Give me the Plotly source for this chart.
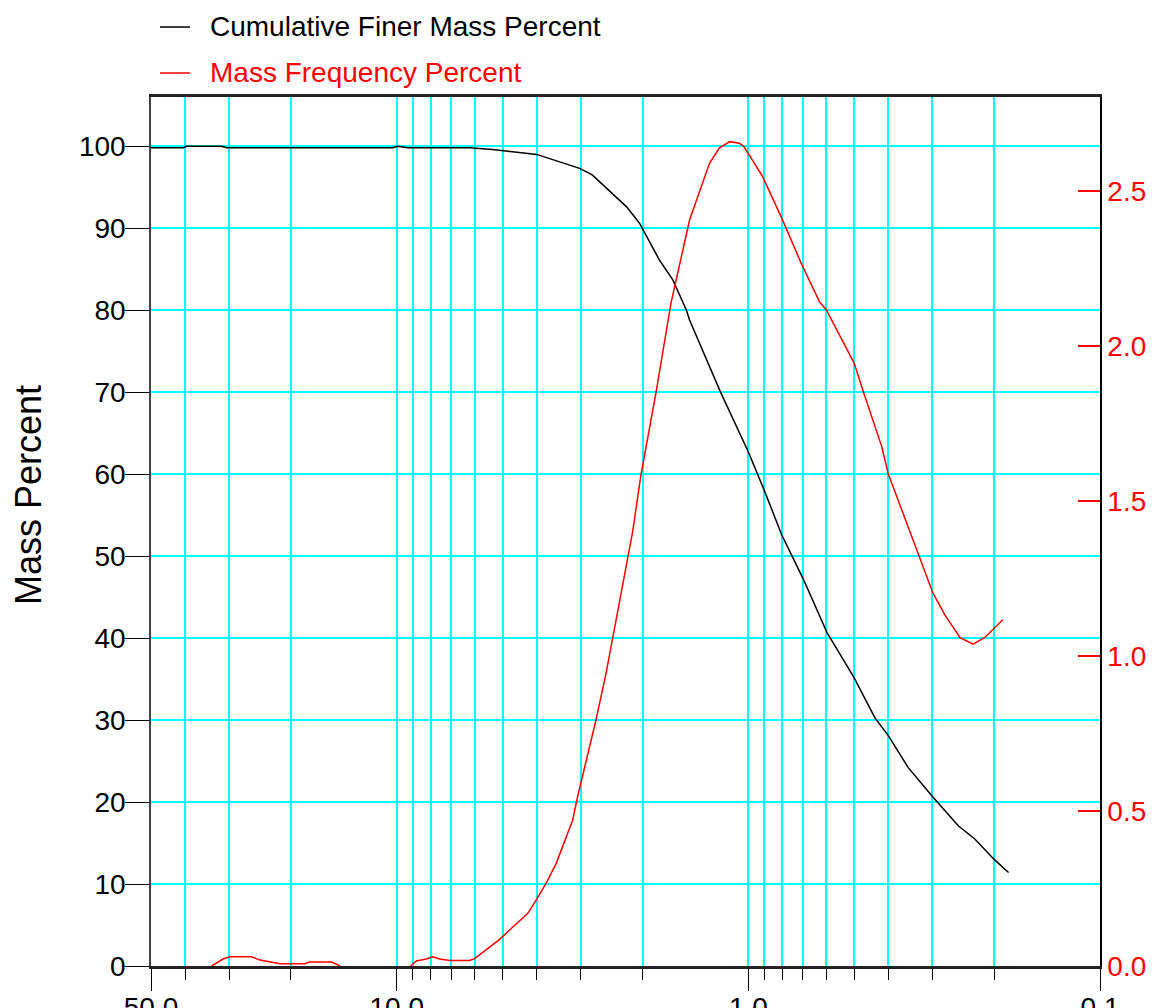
import plotly.graph_objects as go

# ---------------- data ----------------
cum_diam = [50, 40.5, 39.5, 31.5, 30.5, 10.3, 9.9, 9.3, 6.2, 5.34, 4.00, 3.02, 2.78,
            2.22, 2.04, 1.79, 1.64, 1.50, 1.47, 1.20, 1.0, 0.897, 0.804, 0.698, 0.598,
            0.501, 0.437, 0.400, 0.351, 0.300, 0.253, 0.227, 0.200, 0.182]
cum_finer = [99.8, 99.8, 100.0, 100.0, 99.8, 99.8, 100.0, 99.8, 99.8, 99.6, 99.0, 97.3, 96.5,
             92.6, 90.6, 86.1, 83.7, 80.0, 78.8, 70.0, 62.7, 57.8, 52.6, 47.2, 40.7,
             35.2, 30.3, 28.1, 24.2, 20.7, 17.1, 15.5, 13.0, 11.4]

freq_diam = [33.6, 31.2, 29.8, 25.9, 24.5, 21.5, 18.3, 17.7, 15.3, 14.5, None,
             9.13, 8.80, 8.24, 7.89, 7.55, 7.07, 6.21, 6.00, 5.10, 4.24, 4.01, 3.76, 3.52,
             3.16, 3.06, 2.89, 2.71, 2.54, 2.43, 2.32, 2.13, 2.02, 1.83, 1.66, 1.47, 1.29,
             1.21, 1.13, 1.06, 1.03, 0.911, 0.799, 0.708, 0.628, 0.600, 0.500, 0.471, 0.418,
             0.400, 0.351, 0.327, 0.299, 0.276, 0.250, 0.2296, 0.213, 0.189]
freq_pct = [0, 0.0226, 0.030, 0.030, 0.019, 0.0075, 0.0075, 0.013, 0.013, 0, None,
            0, 0.016, 0.0226, 0.030, 0.0226, 0.0177, 0.0177, 0.0236, 0.086, 0.17, 0.213, 0.267, 0.331,
            0.471, 0.546, 0.665, 0.796, 0.944, 1.054, 1.181, 1.406, 1.586, 1.851, 2.138, 2.406, 2.589,
            2.638, 2.659, 2.654, 2.643, 2.546, 2.406, 2.267, 2.143, 2.116, 1.944, 1.852, 1.677,
            1.587, 1.419, 1.3225, 1.204, 1.132, 1.059, 1.038, 1.059, 1.117]

x_major = [50, 10, 1, 0.1]
x_major_text = ["50.0", "10.0", "1.0", "0.1"]
x_minor = [40, 30, 20, 9, 8, 7, 6, 5, 4, 3, 2, 0.9, 0.8, 0.7, 0.6, 0.5, 0.4, 0.3, 0.2]
y_left_ticks = [0, 10, 20, 30, 40, 50, 60, 70, 80, 90, 100]
y_right_ticks = [0.0, 0.5, 1.0, 1.5, 2.0, 2.5]
y_right_text = ["0.0", "0.5", "1.0", "1.5", "2.0", "2.5"]
series_names = ["Cumulative Finer Mass Percent", "Mass Frequency Percent"]
series_colors = ["black", "#FF0000"]

FONT = "Liberation Sans, Arial, sans-serif"
CYAN = "#00FFFF"

# plot-area geometry (pixels) used to place the hand-drawn legend
L, R, T, B = 151, 1100, 97, 966
W, H = R - L, B - T
def px_x(p):
    return (p - L) / W
def px_y(p):
    return (B - p) / H

fig = go.Figure()
fig.add_trace(go.Scatter(x=cum_diam, y=cum_finer, mode="lines",
                         name=series_names[0],
                         line=dict(color=series_colors[0], width=1.5), yaxis="y"))
fig.add_trace(go.Scatter(x=freq_diam, y=freq_pct, mode="lines",
                         name=series_names[1],
                         line=dict(color=series_colors[1], width=1.5), yaxis="y2",
                         connectgaps=False))

shapes = []
annotations = []
for i, (nm, col) in enumerate(zip(series_names, series_colors)):
    yc = 26 + i * 46
    shapes.append(dict(type="line", xref="paper", yref="paper",
                       x0=px_x(160), x1=px_x(190), y0=px_y(yc + 1), y1=px_y(yc + 1),
                       line=dict(color=col, width=1.5)))
    annotations.append(dict(text=nm, xref="paper", yref="paper",
                            x=px_x(208), y=px_y(yc), xanchor="left", yanchor="middle",
                            showarrow=False, font=dict(family=FONT, size=28, color=col)))

annotations.append(dict(text="Mass Percent", textangle=-90, xref="paper", yref="paper",
                        x=px_x(28), y=px_y(495), xanchor="center", yanchor="middle",
                        showarrow=False, font=dict(family=FONT, size=36, color="black")))

fig.update_layout(
    width=1154, height=1008,
    margin=dict(l=L, r=1154 - R, t=T, b=1008 - B, autoexpand=False),
    paper_bgcolor="white", plot_bgcolor="white",
    showlegend=False,
    xaxis=dict(type="log", range=[1.69897, -1], autorange=False, automargin=False,
               tickmode="array", tickvals=x_major, ticktext=x_major_text,
               ticks="outside", ticklen=22, tickwidth=1, tickcolor="black",
               ticklabelstandoff=-7,
               tickfont=dict(family=FONT, size=28, color="black"),
               showgrid=True, gridcolor=CYAN, gridwidth=1.5,
               showline=True, linecolor="#222222", linewidth=2.5, mirror=True,
               zeroline=False,
               minor=dict(tickmode="array", tickvals=x_minor, ticks="outside",
                          ticklen=11, tickwidth=1, tickcolor="black",
                          showgrid=True, gridcolor=CYAN, gridwidth=1.5)),
    yaxis=dict(range=[0, 106], autorange=False, automargin=False,
               tickmode="array", tickvals=y_left_ticks,
               ticks="outside", ticklen=24, tickwidth=1, tickcolor="black",
               ticklabelstandoff=-6,
               tickfont=dict(family=FONT, size=28, color="black"),
               showgrid=True, gridcolor=CYAN, gridwidth=2,
               showline=True, linecolor="#444444", linewidth=1.5,
               zeroline=False),
    yaxis2=dict(range=[0, 2.803], autorange=False, overlaying="y", side="right",
                automargin=False,
                tickmode="array", tickvals=y_right_ticks, ticktext=y_right_text,
                ticks="inside", ticklen=22, tickwidth=2, tickcolor="#FF0000",
                tickfont=dict(family=FONT, size=28, color="#FF0000"),
                showgrid=False, showline=True, linecolor="black", linewidth=1.5,
                zeroline=False),
    shapes=shapes,
    annotations=annotations,
)

fig.write_html("out.html")
